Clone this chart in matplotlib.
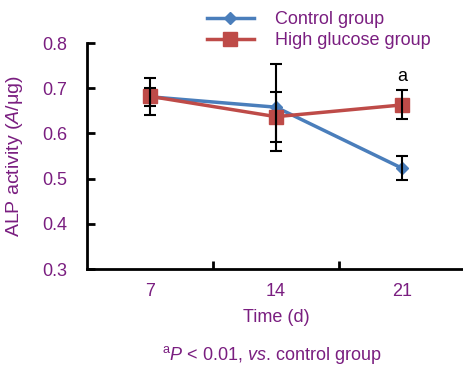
import matplotlib
matplotlib.use("Agg")
import matplotlib.pyplot as plt

plt.rcParams['font.family'] = ['Liberation Sans', 'DejaVu Sans']
plt.rcParams['mathtext.fontset'] = 'custom'
plt.rcParams['mathtext.rm'] = 'Liberation Sans'
plt.rcParams['mathtext.it'] = 'Liberation Sans:italic'
plt.rcParams['mathtext.bf'] = 'Liberation Sans:bold'

categories = ['7', '14', '21']
control = [0.681, 0.658, 0.523]
control_err = [0.020, 0.096, 0.027]
high_glucose = [0.682, 0.637, 0.663]
high_glucose_err = [0.041, 0.055, 0.032]
yticks = [0.3, 0.4, 0.5, 0.6, 0.7, 0.8]

purple = '#7a1e80'
blue = '#4a7ebb'
red = '#be4b48'

fig = plt.figure(figsize=(4.64, 3.67), dpi=100)
ax = fig.add_axes([87/464, 1-269/367, 378/464, 226/367])
x = list(range(len(categories)))

l1, = ax.plot(x, control, color=blue, lw=2.5, marker='D', ms=6.5, mec=blue, mfc=blue, zorder=3)
l2, = ax.plot(x, high_glucose, color=red, lw=2.5, marker='s', ms=10, mec=red, mfc=red, zorder=3)
ax.errorbar(x, control, yerr=control_err, fmt='none', ecolor='black', elinewidth=1.5, capsize=4, capthick=1.5, zorder=4)
ax.errorbar(x, high_glucose, yerr=high_glucose_err, fmt='none', ecolor='black', elinewidth=1.5, capsize=4, capthick=1.5, zorder=4)

ax.text(2, high_glucose[2] + high_glucose_err[2] + 0.012, 'a', ha='center', va='bottom', fontsize=13, color='black')

ax.set_xlim(-0.5, 2.5)
ax.set_ylim(0.3, 0.8)
ax.set_yticks(yticks)
ax.set_yticklabels([f'{v:.1f}' for v in yticks])
ax.set_xticks([0.5, 1.5])
ax.set_xticklabels([])
for xi, c in zip(x, categories):
    ax.text(xi, -0.1, c, transform=ax.get_xaxis_transform(), ha='center', va='center', fontsize=13, color=purple)

for s in ['top', 'right']:
    ax.spines[s].set_visible(False)
for s in ['left', 'bottom']:
    ax.spines[s].set_linewidth(2)
ax.tick_params(axis='y', direction='in', length=6, width=2, labelsize=13, labelcolor=purple, pad=14)
ax.tick_params(axis='x', direction='in', length=6, width=2)

fig.text(15/464, 1-156/367, 'ALP activity ($\\mathit{A}$/μg)', rotation=90, ha='center', va='center', fontsize=14, color=purple)
fig.text(276/464, 1-318/367, 'Time (d)', ha='center', va='center', fontsize=13, color=purple)
fig.text(272/464, 1-355/367, '$^{\\mathrm{a}}$$\\mathit{P}$ < 0.01, $\\mathit{vs}$. control group', ha='center', va='center', fontsize=13, color=purple)

leg = fig.legend([l1, l2], ['Control group', 'High glucose group'], loc='upper left',
                 bbox_to_anchor=(196/464, 1.0), frameon=False, fontsize=13, handlelength=2.6,
                 labelspacing=0.25, handletextpad=1.2, borderaxespad=0.2)
for t in leg.get_texts():
    t.set_color(purple)

fig.savefig('out.png', dpi=100)
